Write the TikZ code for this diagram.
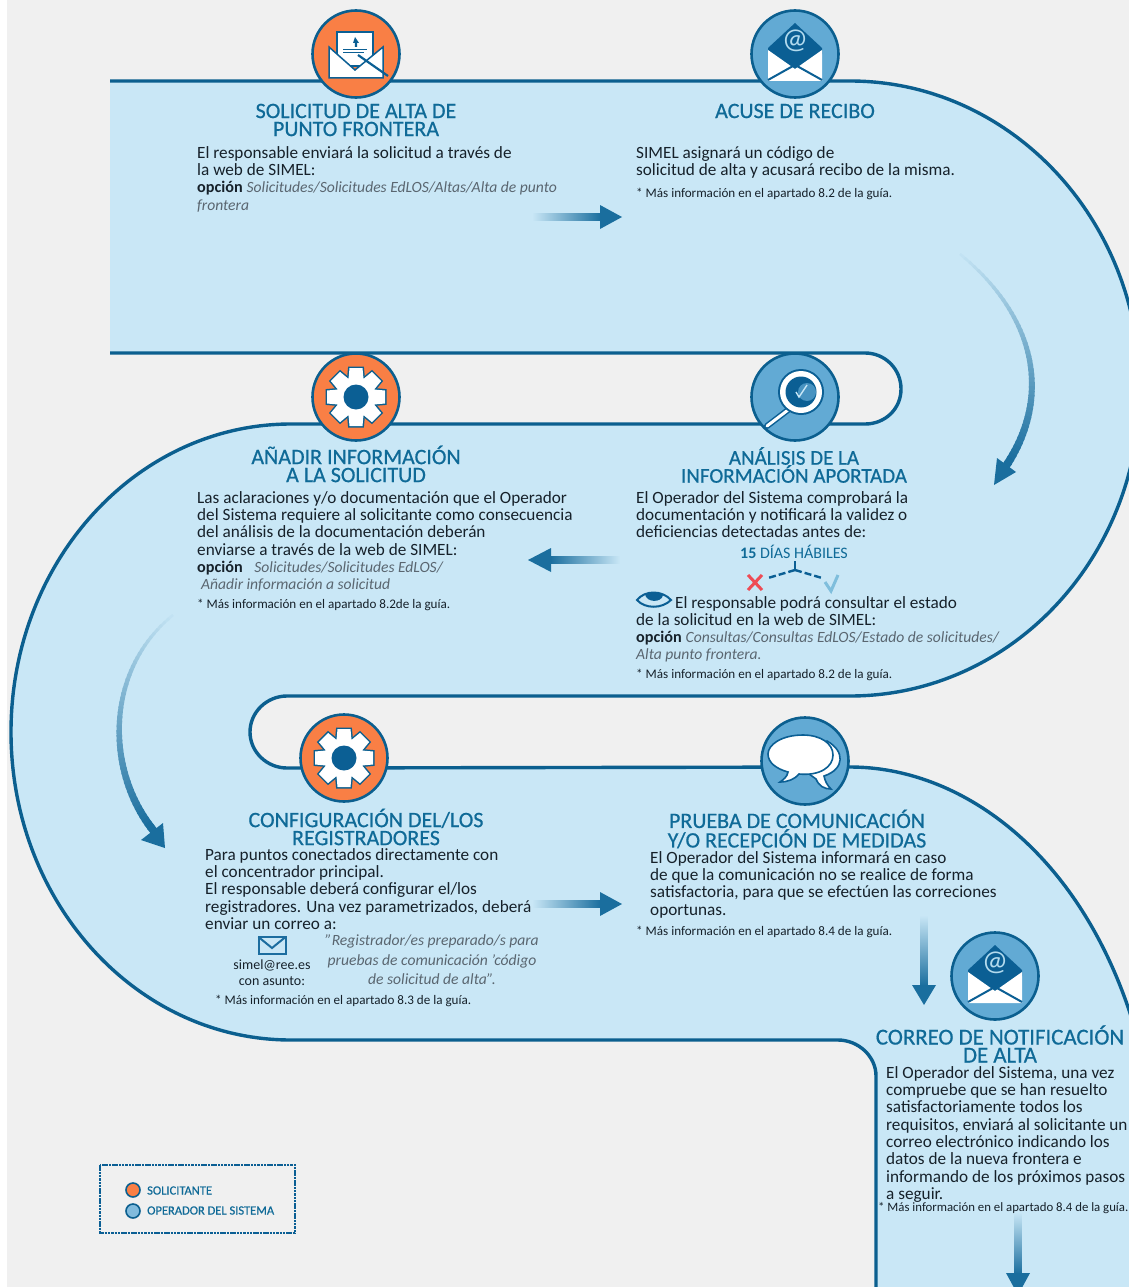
\documentclass[tikz,border=0pt]{standalone}
\usepackage{fontspec}
\setmainfont{Carlito}
\newfontfamily\titfam[FakeBold=0.6]{Carlito}
\definecolor{pagebg}{HTML}{F0F0F0}
\definecolor{rib}{HTML}{C9E7F6}
\definecolor{ol}{HTML}{0B5F8F}
\definecolor{org}{HTML}{F97F45}
\definecolor{bluec}{HTML}{62AAD4}
\definecolor{dkb}{HTML}{0B5F94}
\definecolor{arrowb}{HTML}{1A6E9E}
\definecolor{tit}{HTML}{0F6A97}
\definecolor{txt}{HTML}{16212A}
\definecolor{itg}{HTML}{5A6670}
\definecolor{chk}{HTML}{7FBEDC}
\definecolor{redx}{HTML}{EE4B55}
\newcommand{\ig}[1]{{\fontsize{15.6}{17.3}\selectfont\color{itg}\itshape #1}}
\newcommand{\op}[1]{{\fontsize{16.2}{17.3}\selectfont\bfseries #1}}
\newcommand{\bodyf}{\fontsize{17.2}{17.3}\selectfont}
\newcommand{\notef}{\fontsize{13.1}{14}\selectfont}
\newcommand{\titf}{\titfam\fontsize{22}{18}\selectfont}
\newcommand{\ribA}{(110,81) -- (850,81) .. controls (1010,81) and (1140,219) .. (1140,389) .. controls (1140,559) and (1010,696) .. (850,696) -- (287,696) .. controls (267,696) and (250,712) .. (250,732) .. controls (250,752) and (267,768) .. (287,768) -- (850,767) .. controls (960,767) and (1075,850) .. (1129,1010) -- (1145,1060) -- (1145,1300)}
\newcommand{\ribB}{(876,1300) -- (876,1076) .. controls (876,1056) and (858,1040) .. (838,1040) -- (291,1040) .. controls (136,1040) and (11,902) .. (11,732) .. controls (11,562) and (136,424) .. (291,424) -- (865,424) .. controls (885,424) and (901,409) .. (901,389) .. controls (901,369) and (885,353) .. (865,353) -- (110,353)}
\newcommand{\gearicon}[2]{\begin{scope}[shift={#2}]
\fill[org,draw=ol,line width=2.6] (0,0) circle[radius=43.5];
\foreach \a in {0,45,...,315}{\draw[ol,line width=3,rotate=\a] (-7.5,-18) -- (-6.5,-29) -- (6.5,-29) -- (7.5,-18) -- cycle;}
\draw[ol,line width=3] (0,0) circle[radius=20];
\foreach \a in {0,45,...,315}{\fill[white,rotate=\a] (-7.5,-18) -- (-6.5,-29) -- (6.5,-29) -- (7.5,-18) -- cycle;}
\fill[white] (0,0) circle[radius=20];
\fill[dkb] (0,0) circle[radius=12.5];
\end{scope}}
\newcommand{\mailicon}[2]{\begin{scope}[shift={#2}]
\fill[bluec,draw=ol,line width=2.6] (0,0) circle[radius=43.5];
\fill[dkb] (0,-31) -- (27,-6) -- (27,0) -- (0,20) -- (-27,0) -- (-27,-6) -- cycle;
\fill[white] (-27,-4) -- (0,15) -- (27,-4) -- (27,27) -- (-27,27) -- cycle;
\draw[dkb,line width=2] (-27,26) -- (-2,12) (27,26) -- (2,12);
\node[text=rib!70!chk,font=\fontsize{29}{29}\selectfont,inner sep=0] at (0,-13) {@};
\end{scope}}
\newcommand{\gradcurve}[4]{\foreach \i in {0,...,49}{
\pgfmathsetmacro{\gpc}{min(100,4+\i*2)}
\pgfmathsetmacro{\gwd}{2.5+\i*0.11}
\path #1 .. controls #2 and #3 .. #4 coordinate[pos=\i/50] (gs) coordinate[pos=(\i+1.4)/50] (ge);
\draw[arrowb!\gpc!rib,line width=\gwd] (gs) -- (ge);}}
\tikzset{
 bodyt/.style={anchor=north west,inner sep=0,align=left,text=txt,font=\bodyf},
 notet/.style={anchor=north west,inner sep=0,align=left,text=txt,font=\notef},
 titlet/.style={inner sep=0,align=center,text=tit,font=\titf},
 ribline/.style={draw=ol,line width=3.4},
 headf/.style={fill=arrowb},
 legt/.style={anchor=west,inner sep=0,text=tit,font=\titfam\fontsize{12.5}{12}\selectfont}
}
\begin{document}
\begin{tikzpicture}[x=1pt,y=-1pt]
\useasboundingbox (0,0) rectangle (1129,1287);
\fill[pagebg] (0,0) rectangle (1129,1287);
\fill[white] (0,0) rectangle (7,1287);
% ribbon
\fill[rib] \ribA -- \ribB -- cycle;
\draw[ribline] \ribA;
\draw[ribline] \ribB;
% icon 1
\begin{scope}[shift={(356,54)}]
\fill[org,draw=ol,line width=2.6] (0,0) circle[radius=43.5];
\fill[white,draw=dkb,line width=1.5] (-19,-22) rectangle (17,12);
\fill[dkb] (-1,-17) -- (3,-11) -- (1.2,-11) -- (1.2,-7) -- (-1.2,-7) -- (-1.2,-11) -- (-3,-11) -- cycle;
\draw[dkb,line width=1] (-13,-4) -- (11,-4) (-13,-1) -- (8,-1);
\fill[white,draw=dkb,line width=1.5] (-27,-7) -- (-1,16) -- (27,-7) -- (27,24) -- (-27,24) -- cycle;
\draw[dkb,line width=2.2] (2,1) -- (32,22);
\end{scope}
\mailicon{x}{(795,54)}
\gearicon{x}{(356,397)}
% magnifier
\begin{scope}[shift={(795,397)}]
\fill[bluec,draw=ol,line width=2.6] (0,0) circle[radius=43.5];
\draw[dkb,line width=6,line cap=round] (-7,13) -- (-28,29);
\draw[white,line width=3,line cap=round] (-7,13) -- (-28,29);
\fill[dkb] (6,-5) circle[radius=23];
\fill[white] (6,-5) circle[radius=21];
\fill[dkb] (6,-5) circle[radius=15.5];
\fill[bluec!70!dkb] (12,-5) circle[radius=9];
\draw[rib,line width=1.4] (1,-5) -- (4,0) -- (12,-12);
\end{scope}
\gearicon{x}{(344,758)}
% speech
\begin{scope}[shift={(805,761)}]
\fill[bluec,draw=ol,line width=2.6] (0,0) circle[radius=43.5];
\fill[white,draw=dkb,line width=1.6] (26,28) .. controls (19,28) and (14,25) .. (11,18) -- (0,10) -- (22,-20) .. controls (40,-10) and (40,8) .. (19,15) .. controls (20,20) and (22,24) .. (26,28) -- cycle;
\fill[white,draw=dkb,line width=1.6] (-2,-26) .. controls (-24,-26) and (-37,-16) .. (-37,-7) .. controls (-37,2) and (-28,8) .. (-17,11) .. controls (-18,16) and (-21,18) .. (-25,21) .. controls (-17,21) and (-10,18) .. (-6,13) .. controls (15,15) and (28,6) .. (28,-6) .. controls (28,-18) and (15,-26) .. (-2,-26) -- cycle;
\end{scope}
\mailicon{x}{(995,976)}
% titles
\node[titlet] (t1) at (356,120) {SOLICITUD DE ALTA DE\\PUNTO FRONTERA};
\node[titlet] (t2) at (795,111) {ACUSE DE RECIBO};
\node[titlet] (t3) at (356,464) {AÑADIR INFORMACIÓN\\A LA SOLICITUD};
\node[titlet,font=\titfam\fontsize{21}{18}\selectfont] (t4) at (794,465) {ANÁLISIS DE LA\\INFORMACIÓN APORTADA};
\node[titlet] (t5) at (366,827) {CONFIGURACIÓN DEL/LOS\\REGISTRADORES};
\node[titlet] (t6) at (797,829) {PRUEBA DE COMUNICACIÓN\\Y/O RECEPCIÓN DE MEDIDAS};
\node[titlet,font=\titfam\fontsize{22.8}{18}\selectfont] (t7) at (1000,1044) {CORREO DE NOTIFICACIÓN\\DE ALTA};
% body
\node[bodyt] (b1) at (197,146) {\rule{0pt}{12pt}El responsable enviará la solicitud a través de\\la web de SIMEL:\\\op{opción} \ig{Solicitudes/Solicitudes EdLOS/Altas/Alta de punto}\\\ig{frontera}};
\node[bodyt] (b2) at (636,146) {\rule{0pt}{12pt}SIMEL asignará un código de\\solicitud de alta y acusará recibo de la misma.};
\node[notet] (n2) at (636,187) {\rule{0pt}{10pt}* Más información en el apartado 8.2 de la guía.};
\node[bodyt] (b3) at (197,491) {\rule{0pt}{12pt}Las aclaraciones y/o documentación que el Operador\\del Sistema requiere al solicitante como consecuencia\\del análisis de la documentación deberán\\enviarse a través de la web de SIMEL:\\\op{opción}\ \ \ \ig{Solicitudes/Solicitudes EdLOS/}\\\ \ig{Añadir información a solicitud}};
\node[notet] (n3) at (197,598) {\rule{0pt}{10pt}* Más información en el apartado 8.2de la guía.};
\node[bodyt] (b4) at (636,491) {\rule{0pt}{12pt}El Operador del Sistema comprobará la\\documentación y notificará la validez o\\deficiencias detectadas antes de:};
\node[inner sep=0,text=tit,font=\fontsize{16}{15}\selectfont] (d15) at (794,552) {{\bfseries 15} DÍAS HÁBILES};
\node[bodyt] (b5) at (675,596) {\rule{0pt}{12pt}El responsable podrá consultar el estado};
\node[bodyt] (b6) at (636,613) {\rule{0pt}{12pt}de la solicitud en la web de SIMEL:\\\op{opción} \ig{Consultas/Consultas EdLOS/Estado de solicitudes/}\\\ig{Alta punto frontera.}};
\node[notet] (n4) at (636,668) {\rule{0pt}{10pt}* Más información en el apartado 8.2 de la guía.};
\node[bodyt] (b7) at (205,848) {\rule{0pt}{12pt}Para puntos conectados directamente con\\el concentrador principal.\\El responsable deberá configurar el/los\\registradores. Una vez parametrizados, deberá\\enviar un correo a:};
\node[inner sep=0,align=center,text=txt,font=\fontsize{14}{16}\selectfont] (mail) at (272,973) {simel@ree.es\\con asunto:};
\node[inner sep=0,align=center,text=itg,font=\fontsize{15.6}{19.5}\selectfont\itshape] (quote) at (432,960) {"Registrador/es preparado/s para\\pruebas de comunicación 'código\\de solicitud de alta".};
\node[notet] (n5) at (215,994) {\rule{0pt}{10pt}* Más información en el apartado 8.3 de la guía.};
\node[bodyt] (b8) at (650,851) {\rule{0pt}{12pt}El Operador del Sistema informará en caso\\de que la comunicación no se realice de forma\\satisfactoria, para que se efectúen las correciones\\oportunas.};
\node[notet] (n6) at (636,925) {\rule{0pt}{10pt}* Más información en el apartado 8.4 de la guía.};
\node[bodyt] (b9) at (886,1066) {\rule{0pt}{12pt}El Operador del Sistema, una vez\\compruebe que se han resuelto\\satisfactoriamente todos los\\requisitos, enviará al solicitante un\\correo electrónico indicando los\\datos de la nueva frontera e\\informando de los próximos pasos\\a seguir.};
\node[notet,font=\fontsize{12.8}{14}\selectfont] (n7) at (878,1201) {\rule{0pt}{10pt}* Más información en el apartado 8.4 de la guía.};
% small mail icon
\draw[dkb!85!chk,line width=2,fill=rib] (258.5,937) rectangle (285.5,954);
\draw[dkb!85!chk,line width=2] (258.5,937) -- (272,948) -- (285.5,937);
% eye
\path[fill=rib,draw=dkb,line width=2] (637,600) .. controls (645,590) and (662,590) .. (671,600) .. controls (662,609) and (645,609) .. (637,600) -- cycle;
\fill[dkb] (645,594) .. controls (650,592) and (658,592) .. (663,595) .. controls (662,603) and (646,603) .. (645,594) -- cycle;
% branch
\coordinate (br) at (795,570);
\draw[dkb,line width=2.4] (795,561) -- (br);
\draw[dkb,line width=2.4,dash pattern=on 7pt off 3pt] (br) -- (768,578);
\draw[dkb,line width=2.4,dash pattern=on 7pt off 3pt] (br) -- (822,578);
\draw[redx,line width=3] (748,575) -- (762,590) (762,575) -- (748,590);
\draw[chk,line width=3] (825,582) -- (831,591) -- (838,575);
% straight arrows
\shade[left color=rib,right color=arrowb] (532,213.5) rectangle (601,220.5);
\fill[headf] (600,205) -- (622,217) -- (600,229) -- cycle;
\shade[right color=rib,left color=arrowb] (550,556.5) rectangle (620,563.5);
\fill[headf] (551,548) -- (528,560) -- (551,572) -- cycle;
\shade[left color=rib,right color=arrowb] (532,900.5) rectangle (601,907.5);
\fill[headf] (600,892) -- (622,904) -- (600,916) -- cycle;
\shade[top color=rib,bottom color=arrowb] (920.5,915) rectangle (927.5,986);
\fill[headf] (912,985) -- (924,1005) -- (936,985) -- cycle;
\shade[top color=rib,bottom color=arrowb] (1014.5,1212) rectangle (1021.5,1274);
\fill[headf] (1006,1273) -- (1018,1295) -- (1030,1273) -- cycle;
% curved arrows
\gradcurve{(960,254)}{(1040,320)}{(1050,400)}{(1006,466)}
\fill[headf] (994,485) -- (1016,472) -- (997,458) -- cycle;
\gradcurve{(173,615)}{(105,670)}{(105,770)}{(153,830)}
\fill[headf] (165,848) -- (141,840) -- (163,823) -- cycle;
% legend
\draw[dkb,line width=2.4,dash pattern=on 2.5pt off 0.8pt] (100,1165) rectangle (295,1233);
\fill[org,draw=ol,line width=1.6] (133,1190) circle[radius=7];
\fill[bluec!80!white,draw=ol,line width=1.6] (133,1211) circle[radius=7];
\node[legt] (l1) at (147,1190.5) {SOLICITANTE};
\node[legt] (l2) at (147,1210.5) {OPERADOR DEL SISTEMA};
\end{tikzpicture}
\end{document}
